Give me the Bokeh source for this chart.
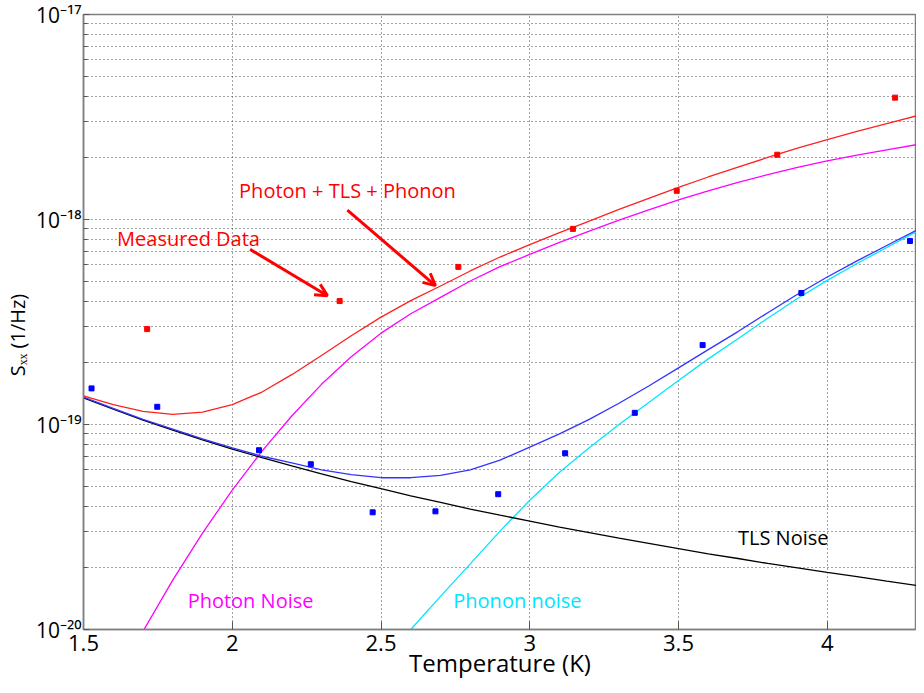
from bokeh.plotting import figure
from bokeh.models import (Range1d, FixedTicker, CustomJSTickFormatter, Arrow,
                          OpenHead, Label)
from bokeh.embed import file_html
from bokeh.resources import INLINE

# ---------------- data ----------------
temp_grid = [1.5, 1.6, 1.7, 1.8, 1.9, 2.0, 2.1, 2.2, 2.3, 2.4, 2.5, 2.6, 2.7,
             2.8, 2.9, 3.0, 3.1, 3.2, 3.3, 3.4, 3.5, 3.6, 3.7, 3.8, 3.9, 4.0,
             4.1, 4.2, 4.3]

tls_noise = [1.350e-19, 1.187e-19, 1.051e-19, 9.38e-20, 8.41e-20, 7.59e-20,
             6.89e-20, 6.28e-20, 5.74e-20, 5.27e-20, 4.86e-20, 4.49e-20,
             4.17e-20, 3.87e-20, 3.61e-20, 3.38e-20, 3.16e-20, 2.97e-20,
             2.79e-20, 2.63e-20, 2.48e-20, 2.34e-20, 2.22e-20, 2.10e-20,
             2.00e-20, 1.90e-20, 1.81e-20, 1.72e-20, 1.64e-20]

tls_plus_phonon = [1.36e-19, 1.20e-19, 1.06e-19, 9.5e-20, 8.5e-20, 7.7e-20,
                   7.0e-20, 6.5e-20, 6.0e-20, 5.7e-20, 5.5e-20, 5.5e-20,
                   5.65e-20, 6.0e-20, 6.7e-20, 7.75e-20, 9.0e-20, 1.06e-19,
                   1.27e-19, 1.54e-19, 1.89e-19, 2.32e-19, 2.84e-19, 3.51e-19,
                   4.32e-19, 5.24e-19, 6.28e-19, 7.47e-19, 8.87e-19]

total_noise = [1.38e-19, 1.25e-19, 1.16e-19, 1.12e-19, 1.15e-19, 1.25e-19,
               1.44e-19, 1.75e-19, 2.17e-19, 2.71e-19, 3.34e-19, 4.02e-19,
               4.74e-19, 5.61e-19, 6.56e-19, 7.54e-19, 8.63e-19, 9.83e-19,
               1.12e-18, 1.268e-18, 1.434e-18, 1.612e-18, 1.801e-18,
               2.007e-18, 2.227e-18, 2.456e-18, 2.689e-18, 2.935e-18,
               3.204e-18]

photon_temp = [1.7, 1.8, 1.9, 2.0, 2.1, 2.2, 2.3, 2.4, 2.5, 2.6, 2.7, 2.8, 2.9,
               3.0, 3.1, 3.2, 3.3, 3.4, 3.5, 3.6, 3.7, 3.8, 3.9, 4.0, 4.1, 4.2,
               4.3]
photon_noise = [9.8e-21, 1.74e-20, 2.95e-20, 4.79e-20, 7.41e-20, 1.10e-19,
                1.57e-19, 2.14e-19, 2.79e-19, 3.47e-19, 4.17e-19, 5.01e-19,
                5.89e-19, 6.76e-19, 7.73e-19, 8.77e-19, 9.93e-19, 1.114e-18,
                1.245e-18, 1.380e-18, 1.517e-18, 1.656e-18, 1.795e-18,
                1.932e-18, 2.061e-18, 2.188e-18, 2.317e-18]

phonon_temp = [2.6, 2.7, 2.8, 2.9, 3.0, 3.1, 3.2, 3.3, 3.4, 3.5, 3.6, 3.7, 3.8,
               3.9, 4.0, 4.1, 4.2, 4.3]
phonon_noise = [1.0e-20, 1.45e-20, 2.09e-20, 3.02e-20, 4.27e-20, 5.85e-20,
                7.7e-20, 1.0e-19, 1.28e-19, 1.64e-19, 2.09e-19, 2.62e-19,
                3.30e-19, 4.12e-19, 5.05e-19, 6.10e-19, 7.30e-19, 8.71e-19]

meas_red_temp = [1.714, 2.361, 2.76, 3.145, 3.494, 3.832, 4.228]
meas_red_sxx = [2.92e-19, 4.0e-19, 5.87e-19, 9.0e-19, 1.38e-18, 2.07e-18,
                3.93e-18]

meas_blue_temp = [1.527, 1.748, 2.09, 2.264, 2.472, 2.683, 2.894, 3.119, 3.353,
                  3.581, 3.913, 4.278]
meas_blue_sxx = [1.50e-19, 1.22e-19, 7.49e-20, 6.4e-20, 3.73e-20, 3.77e-20,
                 4.57e-20, 7.24e-20, 1.14e-19, 2.44e-19, 4.38e-19, 7.86e-19]

x_ticks = [1.5, 2, 2.5, 3, 3.5, 4]
y_ticks = [1e-20, 1e-19, 1e-18, 1e-17]
y_minor = [m * d for d in (1e-20, 1e-19, 1e-18) for m in range(2, 10)]

FONT = "Open Sans"

p = figure(width=916, height=685, output_backend="svg", toolbar_location=None,
           y_axis_type="log", x_range=Range1d(1.5, 4.3),
           y_range=Range1d(1e-20, 1e-17),
           min_border_left=82, min_border_right=0, min_border_top=14,
           min_border_bottom=56)

p.background_fill_color = "white"
p.border_fill_color = "white"
p.outline_line_color = "#808080"
p.outline_line_width = 1.5

# axes
p.xaxis.ticker = FixedTicker(ticks=x_ticks)
p.xaxis.formatter = CustomJSTickFormatter(code="return String(Math.round(tick*10)/10);")
p.yaxis.ticker = FixedTicker(ticks=y_ticks, minor_ticks=y_minor)
p.yaxis.formatter = CustomJSTickFormatter(code="""
const e = Math.round(Math.log10(tick));
const sup = {'-':'\u207b','0':'\u2070','1':'\u00b9','2':'\u00b2','3':'\u00b3',
 '4':'\u2074','5':'\u2075','6':'\u2076','7':'\u2077','8':'\u2078','9':'\u2079'};
return '10' + String(e).split('').map(c => sup[c]).join('');
""")

for ax in (p.xaxis, p.yaxis):
    ax.axis_line_color = "#808080"
    ax.axis_line_width = 1.5
    ax.major_tick_line_color = "#555555"
    ax.minor_tick_line_color = "#555555"
    ax.major_tick_out = 0
    ax.minor_tick_out = 0
    ax.major_label_text_font = FONT
    ax.major_label_text_color = "black"
    ax.axis_label_text_font = FONT
    ax.axis_label_text_font_style = "normal"
    ax.axis_label_text_color = "black"

p.xaxis.major_tick_in = 8
p.yaxis.major_tick_in = 6
p.yaxis.minor_tick_in = 4
p.xaxis.minor_tick_in = 0
p.xaxis.major_label_text_font_size = "22px"
p.yaxis.major_label_text_font_size = "21px"
p.xaxis.major_label_standoff = 5
p.yaxis.major_label_standoff = 2
p.xaxis.axis_label = "Temperature (K)"
p.xaxis.axis_label_text_font_size = "24px"
p.xaxis.axis_label_standoff = -8
p.yaxis.axis_label = "S\u2093\u2093 (1/Hz)" + "\u00a0" * 5
p.yaxis.axis_label_text_font_size = "20px"
p.yaxis.axis_label_standoff = 2

# grids
p.xgrid.ticker = FixedTicker(ticks=x_ticks)
p.ygrid.ticker = FixedTicker(ticks=y_ticks, minor_ticks=y_minor)
for g in (p.xgrid, p.ygrid):
    g.grid_line_color = "#444444"
    g.grid_line_dash = "1 3"
    g.grid_line_width = 1
p.ygrid.minor_grid_line_color = "#444444"
p.ygrid.minor_grid_line_dash = "1 3"

# curves
p.line(photon_temp, photon_noise, line_color="#ff00ff", line_width=1.3)
p.line(phonon_temp, phonon_noise, line_color="#00e5ff", line_width=1.3)
p.line(temp_grid, tls_noise, line_color="black", line_width=1.3)
p.line(temp_grid, tls_plus_phonon, line_color="#3333ff", line_width=1.3)
p.line(temp_grid, total_noise, line_color="#ff2020", line_width=1.3)

# measured data
p.scatter(meas_red_temp, meas_red_sxx, marker="square", size=5,
          fill_color="#ff0000", line_color="#ff0000")
p.scatter(meas_blue_temp, meas_blue_sxx, marker="square", size=5,
          fill_color="#0000ff", line_color="#0000ff")

# annotations
def add_label(x, y, text, color, size="20px"):
    p.add_layout(Label(x=x, y=y, text=text, text_color=color,
                       text_font=FONT, text_font_size=size,
                       text_baseline="middle", text_align="left"))

add_label(2.023, 1.38e-18, "Photon + TLS + Phonon", "#ff0000")
add_label(1.613, 8.1e-19, "Measured Data", "#ff0000")
add_label(1.85, 1.39e-20, "Photon Noise", "#ff00ff")
add_label(2.743, 1.39e-20, "Phonon noise", "#00e5ff")
add_label(3.70, 2.81e-20, "TLS Noise", "black")

p.add_layout(Arrow(end=OpenHead(size=12, line_color="#ff0000", line_width=3),
                   x_start=2.06, y_start=7.15e-19, x_end=2.32, y_end=4.25e-19,
                   line_color="#ff0000", line_width=3))
p.add_layout(Arrow(end=OpenHead(size=12, line_color="#ff0000", line_width=3),
                   x_start=2.387, y_start=1.11e-18, x_end=2.683, y_end=4.76e-19,
                   line_color="#ff0000", line_width=3))

open("out.html", "w").write(file_html(p, INLINE))
